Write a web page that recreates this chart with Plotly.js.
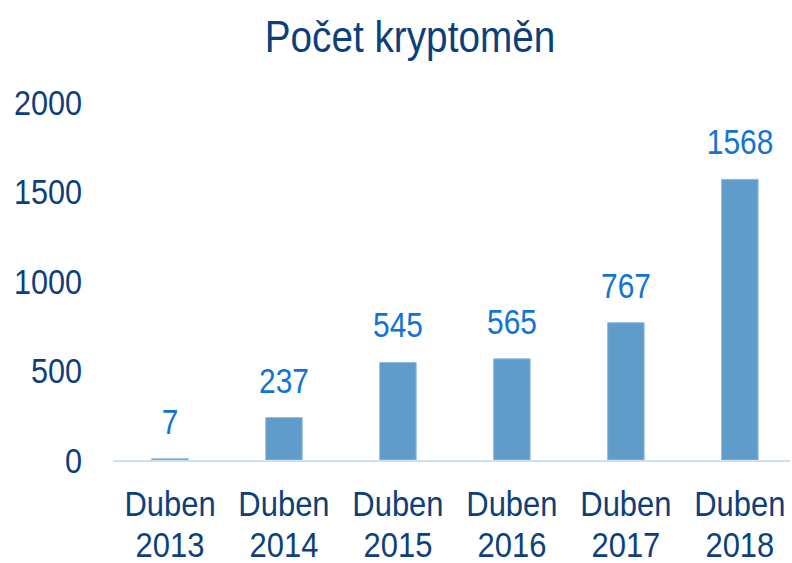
<!DOCTYPE html>
<html>
<head>
<meta charset="utf-8">
<script src="https://cdn.plot.ly/plotly-3.0.1.min.js"></script>
<style>html,body{margin:0;padding:0;background:#fff;}#chart{width:792px;height:563px;}</style>
</head>
<body>
<div id="chart"></div>
<script>
const categories = ["Duben<br>2013", "Duben<br>2014", "Duben<br>2015", "Duben<br>2016", "Duben<br>2017", "Duben<br>2018"];
const values = [7, 237, 545, 565, 767, 1568];
const yTicks = [0, 500, 1000, 1500, 2000];

const FONT = '"Liberation Sans", Arial, sans-serif';
const NAVY = '#0d3f7a';
const LABEL_BLUE = '#1273d6';

const trace = {
  type: 'bar',
  x: categories,
  y: values,
  marker: {color: '#5f9cc9', line: {color: '#8dbbe0', width: 1}},
  hoverinfo: 'none'
};

const annotations = categories.map((c, i) => ({
  x: c, y: values[i], xref: 'x', yref: 'y',
  text: String(values[i]), showarrow: false,
  yanchor: 'bottom', yshift: 15,
  font: {family: FONT, size: 36, color: LABEL_BLUE}
}));

const layout = {
  width: 792, height: 563,
  margin: {l: 113, r: 2, t: 102, b: 103},
  paper_bgcolor: '#ffffff', plot_bgcolor: '#ffffff',
  title: {text: 'Počet kryptoměn', x: 410 / 792, xanchor: 'center', y: 0.935, yanchor: 'middle',
          font: {family: FONT, size: 44, color: NAVY}},
  bargap: 0.68,
  showlegend: false,
  xaxis: {
    type: 'category', range: [-0.5, 5.44],
    showline: true, linecolor: '#cfe0f2', linewidth: 2,
    showgrid: false, zeroline: false, ticks: '',
    ticklabelstandoff: 11,
    tickfont: {family: FONT, size: 36, color: NAVY}
  },
  yaxis: {
    range: [0, 2000], tickvals: yTicks, ticktext: yTicks.map(String),
    showline: false, showgrid: false, zeroline: false, ticks: '',
    ticklabelstandoff: 30,
    tickfont: {family: FONT, size: 36, color: NAVY}
  },
  annotations: annotations
};

function condense(selector, s) {
  document.querySelectorAll(selector).forEach(t => {
    const bb = t.getBBox();
    if (!bb.width) return;
    const anchor = getComputedStyle(t).textAnchor || t.getAttribute('text-anchor');
    const cx = anchor === 'end' ? bb.x + bb.width : (anchor === 'start' ? bb.x : bb.x + bb.width / 2);
    const tr = t.getAttribute('transform') || '';
    t.setAttribute('transform', tr + ' translate(' + cx + ',0) scale(' + s + ',1) translate(' + (-cx) + ',0)');
  });
}

Plotly.newPlot('chart', [trace], layout, {staticPlot: true, displayModeBar: false}).then(() => {
  // tighter line spacing for two-line category labels
  document.querySelectorAll('#chart .xtick text tspan.line').forEach(ts => {
    const dy = ts.getAttribute('dy');
    if (dy && dy.endsWith('em')) {
      const v = parseFloat(dy);
      if (v) ts.setAttribute('dy', (v * 0.87) + 'em');
    }
  });
  // emulate the condensed typeface of the original
  condense('#chart .gtitle', 0.88);
  condense('#chart .xtick text', 0.86);
  condense('#chart .ytick text', 0.85);
  condense('#chart .annotation-text', 0.83);
});
</script>
</body>
</html>
